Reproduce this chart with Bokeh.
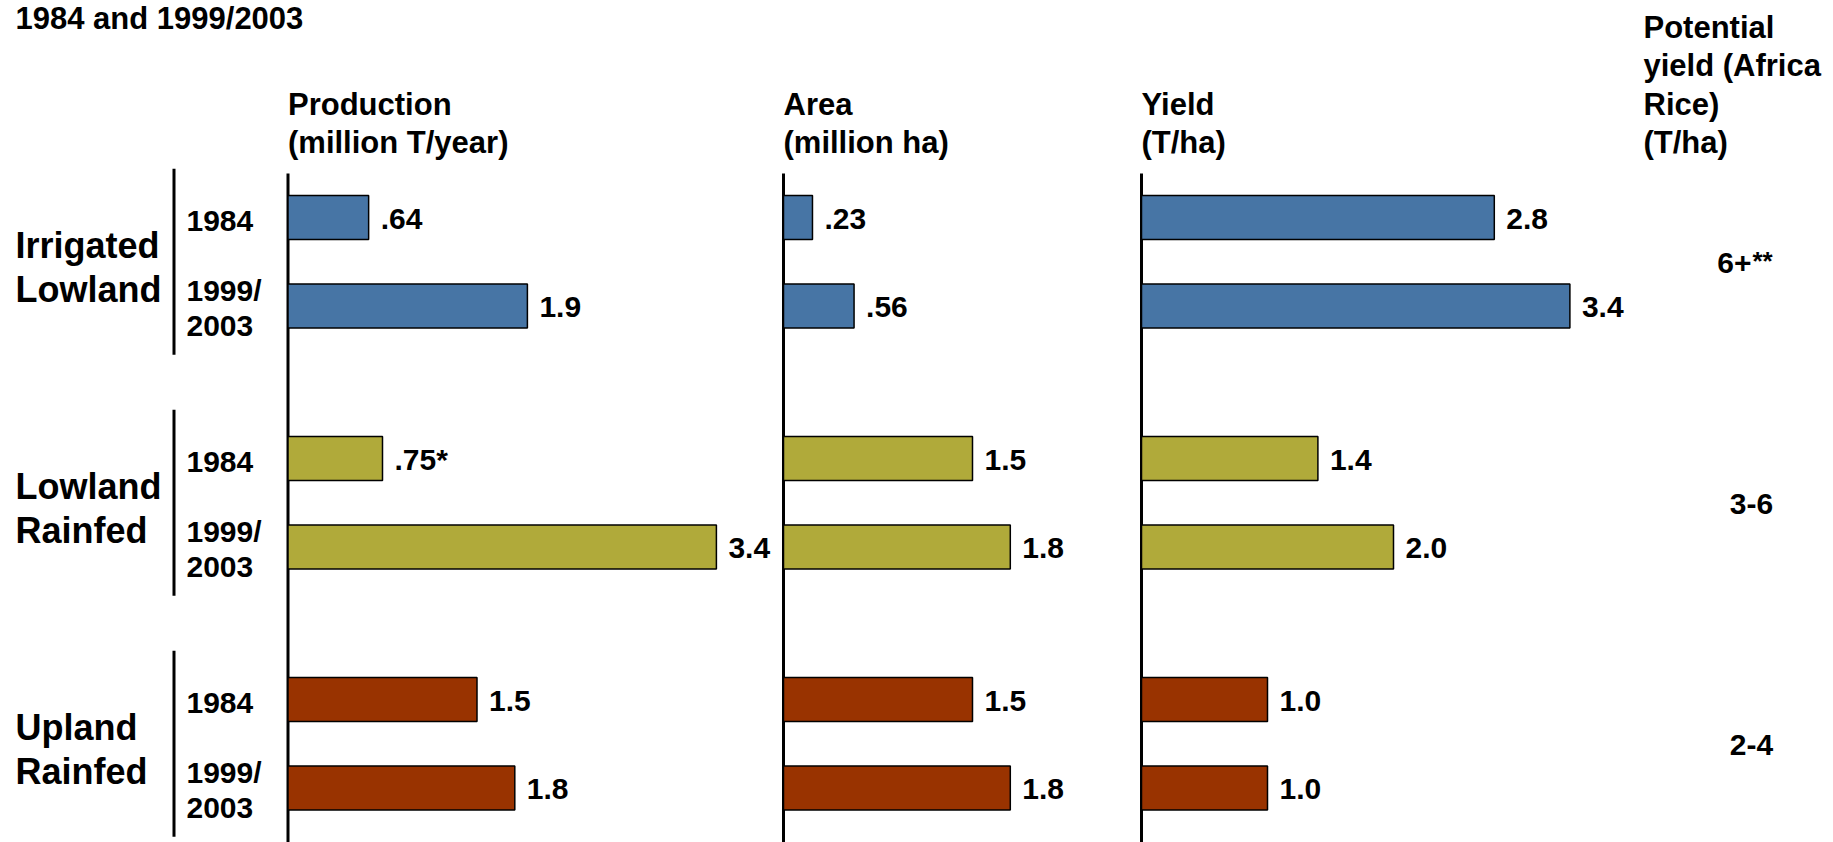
from bokeh.plotting import figure
from bokeh.models import Range1d, ColumnDataSource
from bokeh.transform import dodge
from bokeh.core.properties import value
from bokeh.embed import file_html
from bokeh.resources import INLINE

# ---------------- data ----------------
title_text = "1984 and 1999/2003"
systems = ["Irrigated\nLowland", "Lowland\nRainfed", "Upland\nRainfed"]
years = ["1984", "1999/\n2003"]
production = [0.64, 1.9, 0.75, 3.4, 1.5, 1.8]
production_labels = [".64", "1.9", ".75*", "3.4", "1.5", "1.8"]
area = [0.23, 0.56, 1.5, 1.8, 1.5, 1.8]
area_labels = [".23", ".56", "1.5", "1.8", "1.5", "1.8"]
yields = [2.8, 3.4, 1.4, 2.0, 1.0, 1.0]
yield_labels = ["2.8", "3.4", "1.4", "2.0", "1.0", "1.0"]
potential = ["6+", "3-6", "2-4"]
potential_notes = ["**", "", ""]
headers = ["Production\n(million T/year)", "Area\n(million ha)", "Yield\n(T/ha)",
           "Potential\nyield (Africa\nRice)\n(T/ha)"]
colors = ["#4775a5", "#b0aa3a", "#993300"]

# ---------------- layout (pixels) ----------------
W, H = 1833, 842
PX = 126.0                      # pixels per data unit on the bar scales
AXIS_X = [287.5, 783.0, 1141.0]  # panel origins
POT_X = 1643.0
Y0, KSTEP, GSTEP = 217.0, 88.5, 241.0
BAR_H = 44
FONT = value("Liberation Sans")

def px(x):
    return x / PX

p = figure(width=W, height=H, x_range=Range1d(0, W / PX), y_range=Range1d(H, 0),
           x_axis_type=None, y_axis_type=None, toolbar_location=None,
           output_backend="svg", min_border=0)
p.outline_line_color = None
p.background_fill_color = "white"
p.border_fill_color = "white"

def txt(xs, ys, texts, size, align="left"):
    src = ColumnDataSource(dict(x=xs, y=ys, t=texts))
    p.text(x="x", y="y", text="t", source=src, text_font=FONT, text_font_style="bold",
           text_font_size=size, text_align=align, text_baseline="middle", text_color="black")

# title
txt([px(15)], [18], [title_text], "31px")

# headers (last line aligned)
LINE = 38.5
hx = [px(x) for x in AXIS_X] + [px(POT_X)]
for x0, h in zip(hx, headers):
    lines = h.split("\n")
    n = len(lines)
    txt([x0] * n, [142 - (n - 1 - i) * LINE for i in range(n)], lines, "31px")

# axis lines of the three panels
p.segment(x0=[px(x) for x in AXIS_X], y0=[173] * 3, x1=[px(x) for x in AXIS_X], y1=[H] * 3,
          line_color="black", line_width=3)

# group labels, brackets and year labels
for g, sname in enumerate(systems):
    yc = Y0 + g * GSTEP + KSTEP / 2
    lines = sname.split("\n")
    txt([px(15)] * len(lines), [yc - 16 + i * 44 for i in range(len(lines))], lines, "36px")
    p.segment(x0=[px(173.5)], y0=[yc - 93], x1=[px(173.5)], y1=[yc + 93],
              line_color="black", line_width=3)
    for k, yr in enumerate(years):
        yb = Y0 + g * GSTEP + k * KSTEP
        ylines = yr.split("\n")
        if len(ylines) == 1:
            ys = [yb + 3]
        else:
            ys = [yb - 16 + i * 36 for i in range(len(ylines))]
        txt([px(186)] * len(ylines), ys, ylines, "30px")
    # potential yield
    txt([px(1751)], [yc + 1], [potential[g]], "30px",
        align="right" if potential_notes[g] else "center")
    if potential_notes[g]:
        txt([px(1752)], [yc - 1], [potential_notes[g]], "26px")

# bars
ypos = [Y0 + g * GSTEP + k * KSTEP for g in range(len(systems)) for k in range(len(years))]
bar_colors = [colors[g] for g in range(len(systems)) for k in range(len(years))]
GAP = 12
for x0, vals, labs in zip(AXIS_X, [production, area, yields],
                          [production_labels, area_labels, yield_labels]):
    src = ColumnDataSource(dict(y=ypos, v=vals, lab=labs, c=bar_colors,
                                ly=[y + 1 for y in ypos]))
    p.hbar(y="y", left=px(x0), right=dodge("v", px(x0), range=p.x_range), height=BAR_H,
           fill_color="c", line_color="black", line_width=1.5, source=src)
    p.text(x=dodge("v", px(x0 + GAP), range=p.x_range), y="ly", text="lab", source=src,
           text_font=FONT, text_font_style="bold", text_font_size="30px",
           text_baseline="middle", text_color="black")

open("out.html", "w").write(file_html(p, INLINE))
